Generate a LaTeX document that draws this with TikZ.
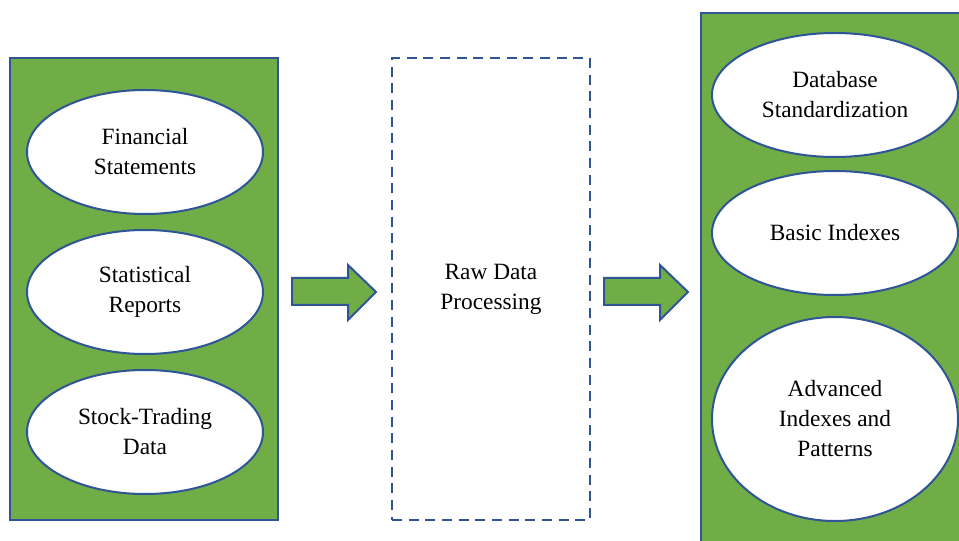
\documentclass[tikz,border=0pt]{standalone}
\usepackage{fontspec}
\setmainfont{Liberation Serif}
\usetikzlibrary{shapes.geometric}

\definecolor{panelgreen}{HTML}{70AD47}
\definecolor{edgeblue}{HTML}{2F5597}

\begin{document}
\begin{tikzpicture}[x=0.75pt, y=-0.75pt,
  panel/.style={draw=edgeblue, line width=1.6pt, fill=panelgreen, inner sep=0pt},
  stage/.style={draw=edgeblue, line width=1.6pt, dash pattern=on 7.5pt off 5pt, inner sep=0pt},
  item/.style={ellipse, draw=edgeblue, line width=1.5pt, fill=white, inner sep=0pt,
    align=center, font=\fontsize{17.5}{22.5}\selectfont},
  flow/.style={draw=edgeblue, line width=1.5pt, fill=panelgreen, line join=miter}]

  \useasboundingbox (0,0) rectangle (959,541);
  \clip (0,0) rectangle (959,541);

  % 三个区域
  \node[panel, minimum width=201pt, minimum height=346.5pt] (sources) at (144,289) {};
  \node[stage, minimum width=148.5pt, minimum height=346.5pt,
        font=\fontsize{17.5}{22.5}\selectfont, align=center] (process) at (491,289)
        {Raw Data\\Processing};
  \node[panel, minimum width=216.75pt, minimum height=410.25pt] (results) at (845.5,286.5) {};

  % 数据来源
  \node[item, minimum width=177pt, minimum height=93pt] (fin)   at (145,152) {Financial\\Statements};
  \node[item, minimum width=177pt, minimum height=93pt] (stat)  at (145,292) {Statistical\\Reports};
  \node[item, minimum width=177pt, minimum height=93pt] (trade) at (145,432) {Stock-Trading\\Data};

  % 处理结果
  \node[item, minimum width=184.5pt, minimum height=93pt]  (std)   at (835,95)  {Database\\Standardization};
  \node[item, minimum width=184.5pt, minimum height=93pt]  (basic) at (835,233) {Basic Indexes};
  \node[item, minimum width=184.5pt, minimum height=153pt] (adv)   at (835,419) {Advanced\\Indexes and\\Patterns};

  % 箭头的起点
  \coordinate (a1) at (292,292);
  \coordinate (a2) at (604,292);

  \foreach \p in {a1, a2}
    \draw[flow, shift={(\p)}] (0,-14) -- (56,-14) -- (56,-27) -- (84,0)
      -- (56,28) -- (56,13) -- (0,13) -- cycle;
\end{tikzpicture}
\end{document}
